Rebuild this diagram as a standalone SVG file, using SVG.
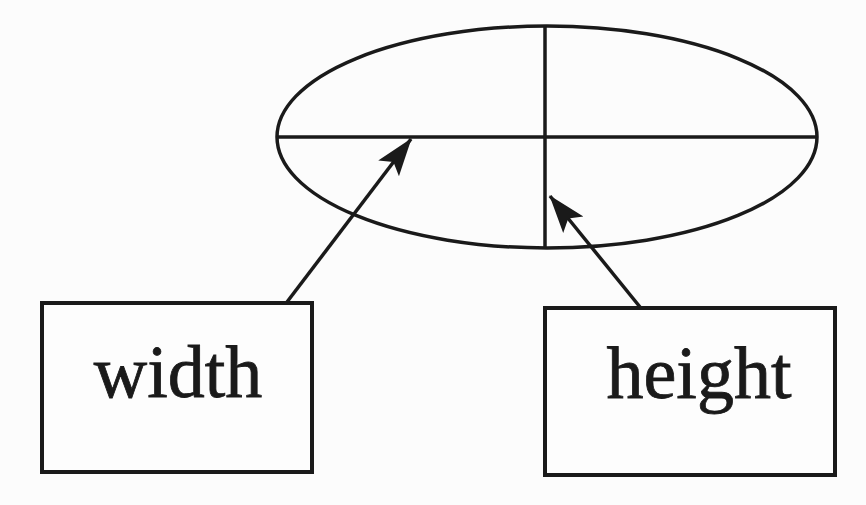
<svg xmlns="http://www.w3.org/2000/svg" width="866" height="505" viewBox="0 0 866 505">
<style>
.shape{fill:none;stroke:#1a1a1a;stroke-width:3.5}
.box{fill:#fdfdfd;stroke:#1a1a1a;stroke-width:4}
.lbl{font-family:"Liberation Serif","Times New Roman",serif;font-size:74px;fill:#1a1a1a;stroke:#1a1a1a;stroke-width:0.8;text-anchor:middle}
.conn{stroke:#1a1a1a;stroke-width:3.5;fill:none;marker-end:url(#ah)}
</style>
<defs>
<marker id="ah" viewBox="0 0 38 28" refX="37" refY="14" markerWidth="38" markerHeight="28" markerUnits="userSpaceOnUse" orient="auto">
<path d="M0,1 L38,14 L0,27 L8,14 z" fill="#1a1a1a"/>
</marker>
</defs>
<rect width="866" height="505" fill="#fcfcfc"/>
<g id="ellipse">
<ellipse class="shape" cx="547" cy="137" rx="270" ry="111"/>
<line class="shape" x1="277" y1="137" x2="817" y2="137"/>
<line class="shape" x1="545" y1="26" x2="545" y2="248"/>
</g>
<g id="width">
<rect class="box" x="42" y="303" width="270" height="169"/>
<text class="lbl" x="178" y="397">width</text>
</g>
<g id="height">
<rect class="box" x="545" y="308" width="290" height="167"/>
<text class="lbl" x="699" y="398">height</text>
</g>
<g id="connectors">
<line class="conn" x1="287" y1="302" x2="411" y2="139"/>
<line class="conn" x1="640" y1="307" x2="550" y2="196"/>
</g>
</svg>
